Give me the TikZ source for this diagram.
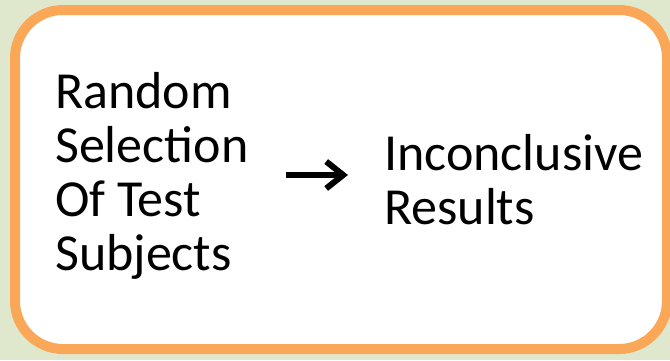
\documentclass[tikz,border=0pt]{standalone}
\usepackage{fontspec}
\setmainfont{Carlito}
\usetikzlibrary{arrows.meta,shadows}
\definecolor{bggreen}{RGB}{223,232,205}
\definecolor{boxorange}{RGB}{250,167,88}
\tikzset{
  txt/.style={anchor=base west, inner sep=0pt, font=\fontsize{52}{54}\selectfont},
  box/.style={draw=boxorange, line width=10pt, fill=white, rounded corners=48pt,
    drop shadow={opacity=0.2, shadow xshift=3pt, shadow yshift=-3pt}},
  arr/.style={line width=6pt, -{Straight Barb[length=17pt,width=27pt,line width=6pt]}}
}
\begin{document}
\begin{tikzpicture}[x=1pt,y=1pt]
\fill[bggreen] (0,0) rectangle (670,360);
\useasboundingbox (0,0) rectangle (670,360);
\draw[box] (15,11) rectangle (667,350);
\node[txt] (l1) at (55,252) {Random};
\node[txt] (l2) at (55,198) {Selection};
\node[txt] (l3) at (55,144) {Of Test};
\node[txt] (l4) at (55,90) {Subjects};
\node[txt] (r1) at (384,190) {Inconclusive};
\node[txt] (r2) at (384,136) {Results};
\coordinate (a1) at (286,185);
\coordinate (a2) at (348,185);
\draw[arr] (a1) -- (a2);
\end{tikzpicture}
\end{document}
